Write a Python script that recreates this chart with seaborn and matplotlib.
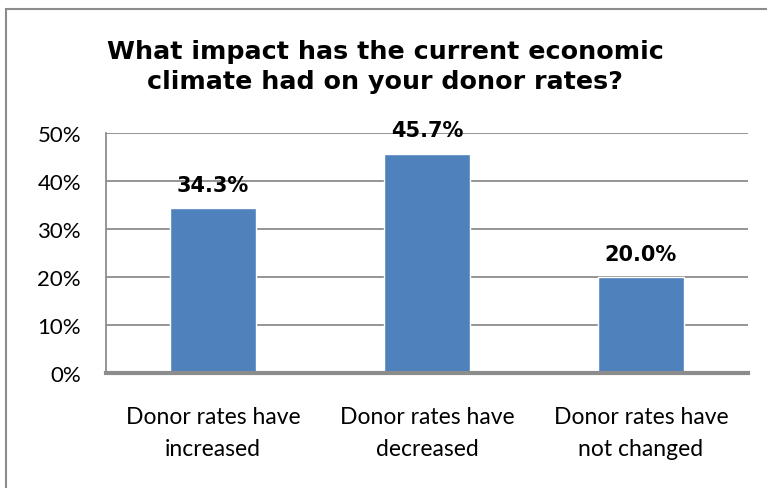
import matplotlib
matplotlib.use("Agg")
import matplotlib.pyplot as plt
import seaborn as sns
import pandas as pd
from matplotlib.ticker import PercentFormatter, MultipleLocator
from matplotlib.patches import Rectangle

categories = ["Donor rates have\nincreased", "Donor rates have\ndecreased", "Donor rates have\nnot changed"]
values = [34.3, 45.7, 20.0]
title = "What impact has the current economic\nclimate had on your donor rates?"

df = pd.DataFrame({"cat": categories, "val": values})

sns.set_theme(style="white")
plt.rcParams["font.family"] = ["Lato", "DejaVu Sans"]

fig = plt.figure(figsize=(7.67, 4.89), dpi=100)
ax = fig.add_axes([106/767, 1 - 374/489, (748-106)/767, (374-134)/489])

sns.barplot(data=df, x="cat", y="val", ax=ax, color="#4F81BD", width=0.4, saturation=1)

ax.set_ylim(0, 50)
ax.set_xlim(-0.5, 2.5)
ax.yaxis.set_major_locator(MultipleLocator(10))
ax.yaxis.set_major_formatter(PercentFormatter(decimals=0))
ax.grid(axis="y", color="#8C8C8C", linewidth=1.3)
ax.set_axisbelow(True)
ax.set_xlabel("")
ax.set_ylabel("")
for s in ["top", "right"]:
    ax.spines[s].set_visible(False)
ax.spines["left"].set_color("#8C8C8C")
ax.spines["left"].set_linewidth(1.3)
ax.spines["bottom"].set_color("#8C8C8C")
ax.spines["bottom"].set_linewidth(3)
ax.tick_params(axis="y", labelsize=16, colors="black", pad=18, length=0)
ax.tick_params(axis="x", labelsize=16.5, colors="black", pad=24, length=0)
for lbl in ax.get_xticklabels():
    lbl.set_linespacing(1.6)

for i, v in enumerate(values):
    ax.annotate(f"{v:.1f}%", (i, v), xytext=(0, 12.5), textcoords="offset points",
                ha="center", va="baseline", fontsize=15, fontweight="bold",
                color="black", family="DejaVu Sans")

fig.text(385/767, 1 - 67/489, title, ha="center", va="center", fontsize=18.3,
         fontweight="bold", family="DejaVu Sans", color="black", linespacing=1.32)

fig.patches.append(Rectangle((6/767, -0.1), 1.2, 1 - 10/489 + 0.1, transform=fig.transFigure,
                             fill=False, edgecolor="#8C8C8C", linewidth=1.5))

fig.savefig("out.png", dpi=100)
